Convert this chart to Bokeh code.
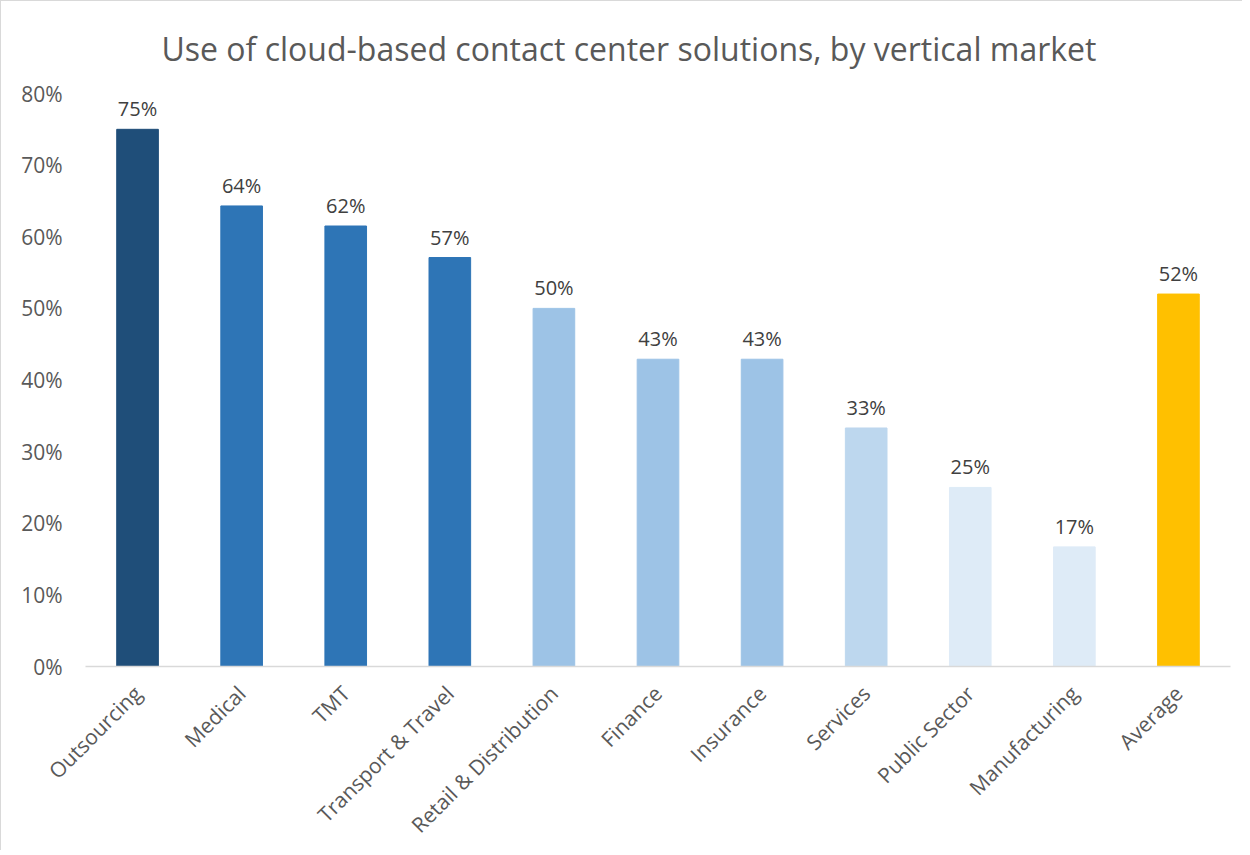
from math import pi
from bokeh.plotting import figure
from bokeh.models import ColumnDataSource, LabelSet, NumeralTickFormatter, FixedTicker
from bokeh.core.properties import value
from bokeh.embed import file_html
from bokeh.resources import INLINE

categories = ["Outsourcing", "Medical", "TMT", "Transport & Travel", "Retail & Distribution",
              "Finance", "Insurance", "Services", "Public Sector", "Manufacturing", "Average"]
values = [0.75, 0.643, 0.615, 0.571, 0.50, 0.429, 0.429, 0.333, 0.25, 0.167, 0.52]
colors = ["#1f4e79", "#2e75b6", "#2e75b6", "#2e75b6", "#9dc3e6", "#9dc3e6", "#9dc3e6",
          "#bdd7ee", "#deebf7", "#deebf7", "#ffc000"]
labels = ["%d%%" % round(v * 100) for v in values]
y_ticks = [0, 0.1, 0.2, 0.3, 0.4, 0.5, 0.6, 0.7, 0.8]

FONT = "Open Sans"
src = ColumnDataSource(dict(cat=categories, val=values, color=colors, lab=labels))

p = figure(x_range=categories, y_range=(0, 0.8), width=1242, height=850,
           output_backend="svg", toolbar_location=None,
           min_border_left=84, min_border_right=13, min_border_top=92, min_border_bottom=184)
p.styles = {"border-left": "1px solid #d9d9d9", "border-top": "1px solid #d9d9d9"}
p.outline_line_color = None
p.background_fill_color = "white"
p.border_fill_color = "white"

p.vbar(x="cat", top="val", width=0.4, color="color", source=src)

p.add_layout(LabelSet(x="cat", y="val", text="lab", source=src, text_align="center",
                      text_baseline="alphabetic", y_offset=13, text_font=value(FONT),
                      text_font_size="20px", text_color="#404040"))

p.title.text = "Use of cloud-based contact center solutions, by vertical market"
p.title.text_font = FONT
p.title.text_font_size = "32px"
p.title.text_font_style = "normal"
p.title.text_color = "#595959"
p.title.align = "left"
p.title.offset = 76
p.title.standoff = 47

p.xgrid.grid_line_color = None
p.ygrid.grid_line_color = None

p.xaxis.axis_line_color = "#d9d9d9"
p.xaxis.axis_line_width = 1.5
p.xaxis.major_tick_line_color = None
p.xaxis.minor_tick_line_color = None
p.xaxis.major_label_orientation = pi / 4
p.xaxis.major_label_text_font = FONT
p.xaxis.major_label_text_font_size = "21px"
p.xaxis.major_label_text_color = "#595959"
p.xaxis.major_label_standoff = 17

p.yaxis.axis_line_color = None
p.yaxis.major_tick_line_color = None
p.yaxis.minor_tick_line_color = None
p.yaxis.ticker = FixedTicker(ticks=y_ticks)
p.yaxis.formatter = NumeralTickFormatter(format="0%")
p.yaxis.major_label_text_font = FONT
p.yaxis.major_label_text_font_size = "21px"
p.yaxis.major_label_text_color = "#595959"
p.yaxis.major_label_standoff = 17

open("out.html", "w").write(file_html(p, INLINE))
